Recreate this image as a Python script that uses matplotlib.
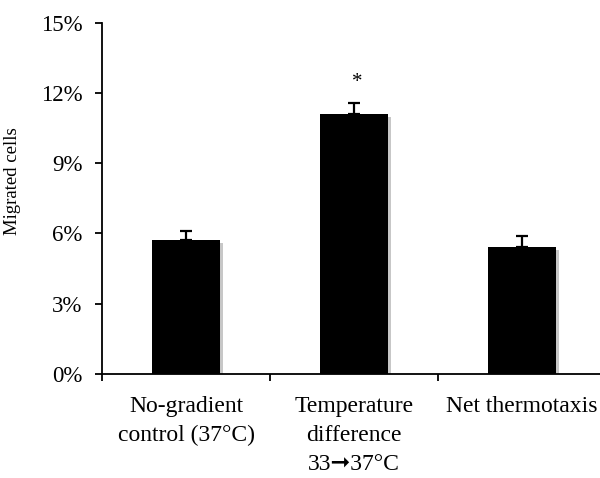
import matplotlib
matplotlib.use("Agg")
import matplotlib.pyplot as plt
import matplotlib.patheffects as pe
from matplotlib.ticker import FixedLocator, PercentFormatter

# migrated cell fractions (%) with upper error bars
groups = ["No-gradient\ncontrol (37°C)", "Temperature\ndifference\n33➞37°C", "Net thermotaxis"]
migrated = [5.7, 11.1, 5.4]
err = [0.4, 0.45, 0.5]
signif = ["", "*", ""]

plt.rcParams["font.family"] = ["Liberation Serif", "DejaVu Sans"]

fig = plt.figure(figsize=(6, 4.78), dpi=100)
ax = fig.add_axes([0.17, 0.218, 0.84, 0.7345])

x = range(len(groups))
bars = ax.bar(x, migrated, width=0.4, color="black", zorder=2)
for b in bars:
    b.set_path_effects([pe.SimplePatchShadow(offset=(2.2, -2.2), shadow_rgbFace="0.78", alpha=1.0),
                        pe.Normal()])
ax.errorbar(x, migrated, yerr=[[0] * len(err), err], fmt="none", ecolor="black",
            elinewidth=1.6, capsize=4.5, capthick=1.6, zorder=3)
for xi, v, e, s in zip(x, migrated, err, signif):
    if s:
        ax.text(xi + 0.02, v + e + 0.5, s, ha="center", va="bottom", fontsize=15)

ax.set_xlim(-0.5, 2.5)
ax.set_ylim(0, 15)
ax.set_yticks([0, 3, 6, 9, 12, 15])
ax.yaxis.set_major_formatter(PercentFormatter(decimals=0))

# category labels centred, tick marks between categories
ax.set_xticks(list(x))
ax.set_xticklabels(groups, linespacing=1.5)
ax.xaxis.set_minor_locator(FixedLocator([-0.5, 0.5, 1.5, 2.5]))
ax.tick_params(axis="x", which="major", length=0, pad=16, labelsize=17)
ax.tick_params(axis="x", which="minor", length=5, width=1.3, direction="out")
ax.tick_params(axis="y", length=5, width=1.3, direction="out", pad=9, labelsize=16.5)

for side in ("top", "right"):
    ax.spines[side].set_visible(False)
for side in ("left", "bottom"):
    ax.spines[side].set_linewidth(1.3)

ax.set_ylabel("Migrated cells", fontsize=13.5)
ax.yaxis.set_label_coords(-0.16, 0.55)

fig.savefig("out.png", dpi=100)
